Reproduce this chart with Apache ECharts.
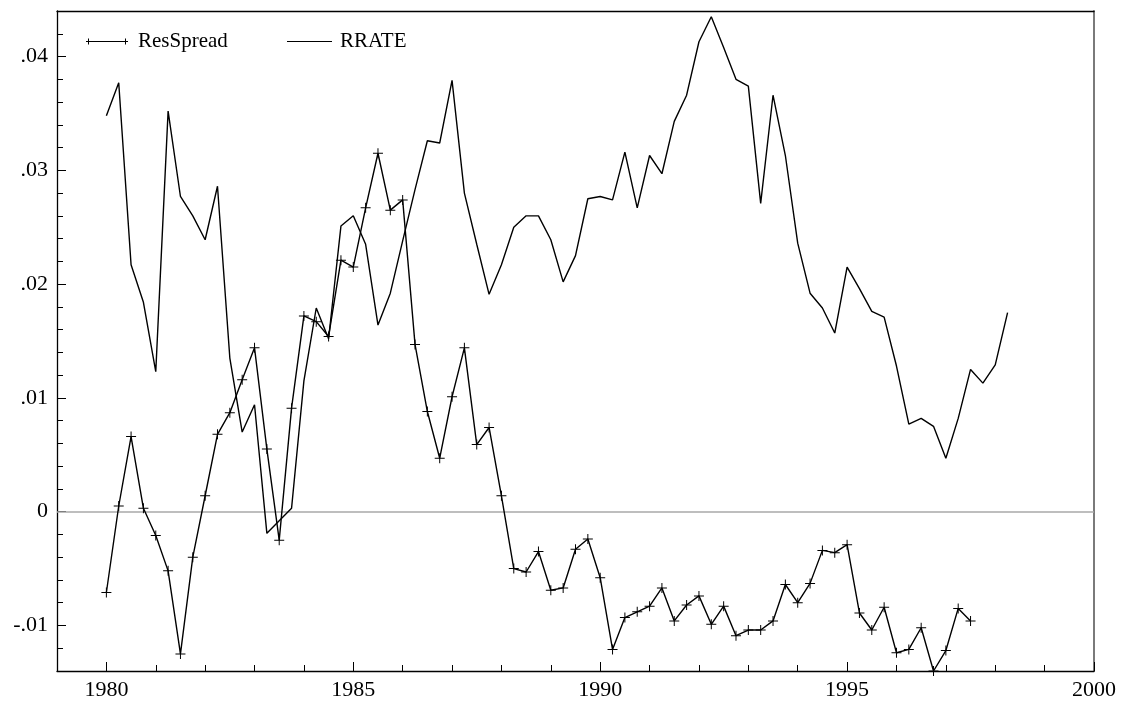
<!DOCTYPE html>
<html>
<head>
<meta charset="utf-8">
<title>ResSpread and RRATE</title>
<script src="https://cdn.jsdelivr.net/npm/echarts@6/dist/echarts.min.js"></script>
<style>
  html, body { margin: 0; padding: 0; background: #fff; }
  #chart { width: 1123px; height: 704px; }
</style>
</head>
<body>
<div id="chart"></div>
<script>
// Quarterly series, first observation 1980Q1
const firstYear = 1980;
const stepPerQuarter = 0.25;

const resSpread = [
  -0.0071, 0.0005, 0.0066, 0.0003,
  -0.0021, -0.0052, -0.0125, -0.0040,
  0.0014, 0.0068, 0.0087, 0.0116,
  0.0144, 0.0055, -0.0025, 0.0091,
  0.0172, 0.0167, 0.0154, 0.0221,
  0.0215, 0.0267, 0.0315, 0.0265,
  0.0274, 0.0147, 0.0088, 0.0047,
  0.0101, 0.0144, 0.0059, 0.0074,
  0.0014, -0.0050, -0.0053, -0.0035,
  -0.0069, -0.0067, -0.0033, -0.0024,
  -0.0058, -0.0121, -0.0093, -0.0088,
  -0.0083, -0.0067, -0.0096, -0.0082,
  -0.0074, -0.0099, -0.0083, -0.0109,
  -0.0104, -0.0104, -0.0096, -0.0064,
  -0.0080, -0.0063, -0.0034, -0.0036,
  -0.0029, -0.0089, -0.0104, -0.0084,
  -0.0124, -0.0121, -0.0102, -0.0140,
  -0.0122, -0.0085, -0.0096
];

const rrate = [
  0.0348, 0.0377, 0.0217, 0.0184,
  0.0123, 0.0352, 0.0277, 0.0260,
  0.0239, 0.0286, 0.0135, 0.0070,
  0.0094, -0.0019, -0.0008, 0.0003,
  0.0115, 0.0179, 0.0152, 0.0251,
  0.0260, 0.0235, 0.0164, 0.0192,
  0.0238, 0.0283, 0.0326, 0.0324,
  0.0379, 0.0280, 0.0235, 0.0191,
  0.0217, 0.0250, 0.0260, 0.0260,
  0.0239, 0.0202, 0.0225, 0.0275,
  0.0277, 0.0274, 0.0316, 0.0267,
  0.0313, 0.0297, 0.0343, 0.0366,
  0.0413, 0.0435, 0.0408, 0.0380,
  0.0374, 0.0271, 0.0366, 0.0313,
  0.0236, 0.0192, 0.0179, 0.0157,
  0.0215, 0.0196, 0.0176, 0.0171,
  0.0128, 0.0077, 0.0082, 0.0075,
  0.0047, 0.0082, 0.0125, 0.0113,
  0.0129, 0.0175
];

// Axis ranges and tick positions
const xMin = 1979, xMax = 2000;
const xMajorTicks = [1980, 1985, 1990, 1995, 2000];
const yMin = -0.014, yMax = 0.044;
const yMajorTicks = [-0.01, 0, 0.01, 0.02, 0.03, 0.04];

const xMinorTicks = [];
for (let y = xMin + 1; y < xMax; y++) {
  if (y % 5 !== 0) xMinorTicks.push(y);
}
const yMinorTicks = [];
for (let k = -12; k <= 42; k += 2) {
  if (k % 10 !== 0) yMinorTicks.push(k / 1000);
}

const toPairs = arr => arr.map((v, i) => [firstYear + i * stepPerQuarter, v]);

const fontFamily = "'Liberation Serif', 'Times New Roman', Times, serif";
const ink = '#000';

function yLabel(v) {
  if (Math.abs(v) < 1e-9) return '0';
  const s = Math.abs(v).toFixed(2).replace(/^0/, '');
  return (v < 0 ? '-' : '') + s;
}

const plusIcon = 'path://M9,0H11V9H20V11H11V20H9V11H0V9H9Z';
const resLegendIcon = 'path://M0,2.5H42V3.5H0Z M2,0H3V6H2Z M39,0H40V6H39Z';
const plainLegendIcon = 'path://M0,2.5H45V3.6H0Z M0,0H0V6H0Z';

const chart = echarts.init(document.getElementById('chart'), null, { renderer: 'canvas' });

chart.setOption({
  animation: false,
  backgroundColor: '#fff',
  grid: { left: 57, right: 29, top: 11, bottom: 33, containLabel: false },
  legend: [
    {
      data: [{ name: 'ResSpread', icon: resLegendIcon }],
      left: 81, top: 26, itemWidth: 42, itemHeight: 7,
      textStyle: { fontFamily, fontSize: 21, color: ink, padding: [0, 0, 0, 5] },
      selectedMode: false
    },
    {
      data: [{ name: 'RRATE', icon: plainLegendIcon }],
      left: 282, top: 26, itemWidth: 45, itemHeight: 7,
      textStyle: { fontFamily, fontSize: 21, color: ink, padding: [0, 0, 0, 3] },
      selectedMode: false
    }
  ],
  xAxis: [
    {
      type: 'value', min: xMin, max: xMax, position: 'bottom',
      axisLine: { show: true, onZero: false, lineStyle: { color: ink, width: 1.3 } },
      axisTick: { show: true, inside: true, length: 9, customValues: xMajorTicks, lineStyle: { color: ink, width: 1 } },
      axisLabel: { customValues: xMajorTicks, formatter: v => String(v), color: ink, fontFamily, fontSize: 22, margin: 8 },
      splitLine: { show: false }
    },
    {
      type: 'value', min: xMin, max: xMax, position: 'bottom',
      axisLine: { show: false, onZero: false },
      axisTick: { show: true, inside: true, length: 6, customValues: xMinorTicks, lineStyle: { color: ink, width: 1 } },
      axisLabel: { show: false },
      splitLine: { show: false }
    },
    {
      type: 'value', min: xMin, max: xMax, position: 'top',
      axisLine: { show: true, onZero: false, lineStyle: { color: ink, width: 1.3 } },
      axisTick: { show: false }, axisLabel: { show: false }, splitLine: { show: false }
    }
  ],
  yAxis: [
    {
      type: 'value', min: yMin, max: yMax, position: 'left',
      axisLine: { show: true, onZero: false, lineStyle: { color: ink, width: 1.3 } },
      axisTick: { show: true, inside: true, length: 9, customValues: yMajorTicks, lineStyle: { color: ink, width: 1 } },
      axisLabel: { customValues: yMajorTicks, formatter: yLabel, color: ink, fontFamily, fontSize: 22, margin: 9 },
      splitLine: { show: false }
    },
    {
      type: 'value', min: yMin, max: yMax, position: 'left',
      axisLine: { show: false, onZero: false },
      axisTick: { show: true, inside: true, length: 6, customValues: yMinorTicks, lineStyle: { color: ink, width: 1 } },
      axisLabel: { show: false },
      splitLine: { show: false }
    },
    {
      type: 'value', min: yMin, max: yMax, position: 'right',
      axisLine: { show: true, onZero: false, lineStyle: { color: '#7a7a7a', width: 2 } },
      axisTick: { show: false }, axisLabel: { show: false }, splitLine: { show: false }
    }
  ],
  series: [
    {
      name: 'RRATE',
      type: 'line',
      xAxisIndex: 0, yAxisIndex: 0,
      data: toPairs(rrate),
      showSymbol: false, symbol: 'none',
      lineStyle: { color: ink, width: 1.4 },
      itemStyle: { color: ink },
      z: 3,
      markLine: {
        silent: true,
        symbol: ['none', 'none'],
        label: { show: false },
        lineStyle: { color: '#a8a8a8', width: 1.5, type: 'solid' },
        data: [{ yAxis: 0 }],
        z: 1
      }
    },
    {
      name: 'ResSpread',
      type: 'line',
      xAxisIndex: 0, yAxisIndex: 0,
      data: toPairs(resSpread),
      symbol: plusIcon, symbolSize: 10, showSymbol: true,
      lineStyle: { color: ink, width: 1.4 },
      itemStyle: { color: ink },
      z: 3
    }
  ]
});
</script>
</body>
</html>
